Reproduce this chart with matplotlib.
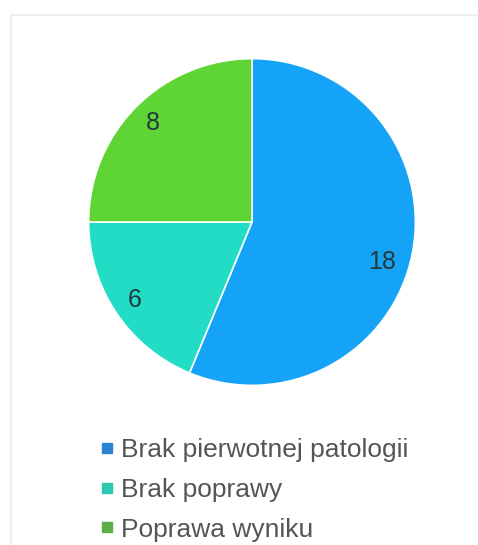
import matplotlib
matplotlib.use("Agg")
import matplotlib.pyplot as plt
import matplotlib.transforms as mtransforms
from matplotlib.lines import Line2D

categories = ["Brak pierwotnej patologii", "Brak poprawy", "Poprawa wyniku"]
values = [18, 6, 8]
slice_colors = ["#14a3f7", "#22dcc6", "#5fd535"]
marker_colors = ["#2c83d6", "#2ec7b2", "#5cae48"]

plt.rcParams['font.family'] = ['Liberation Sans', 'DejaVu Sans']

W, H = 478, 545
fig = plt.figure(figsize=(W / 100, H / 100), dpi=100)

# light frame lines (top and left)
fig.add_artist(Line2D([11 / W, 1], [1 - 15 / H, 1 - 15 / H], color="#ededed", lw=1.5))
fig.add_artist(Line2D([11 / W, 11 / W], [0, 1 - 15 / H], color="#ededed", lw=1.5))

cx, cy, r = 252, 222, 165
ax = fig.add_axes([(cx - r) / W, 1 - (cy + r) / H, 2 * r / W, 2 * r / H])
wedges, texts, autotexts = ax.pie(
    values, colors=slice_colors, startangle=90, counterclock=False,
    radius=1.0, autopct=lambda p: f"{round(p * sum(values) / 100)}",
    pctdistance=0.86,
    wedgeprops=dict(edgecolor="white", linewidth=1.2),
    textprops=dict(fontsize=18, color="#23393f"))
# nudge the largest slice's label slightly, as in the reference
autotexts[0].set_transform(ax.transData + mtransforms.ScaledTranslation(-8 / 100, -13 / 100, fig.dpi_scale_trans))
ax.set_xlim(-1.01, 1.01)
ax.set_ylim(-1.01, 1.01)
ax.set_aspect("equal")
ax.axis("off")

handles = [Line2D([0], [0], marker="s", linestyle="none", markersize=7.5,
                  markerfacecolor=c, markeredgecolor=c) for c in marker_colors]
fig.legend(handles, categories, loc="upper left",
           bbox_to_anchor=(101 / W, 1 - 438 / H), frameon=False,
           fontsize=19, labelcolor="#555555", handlelength=0.45,
           handletextpad=0.3, labelspacing=0.6, borderaxespad=0,
           borderpad=0)

fig.savefig("out.png", dpi=100, facecolor="white")
